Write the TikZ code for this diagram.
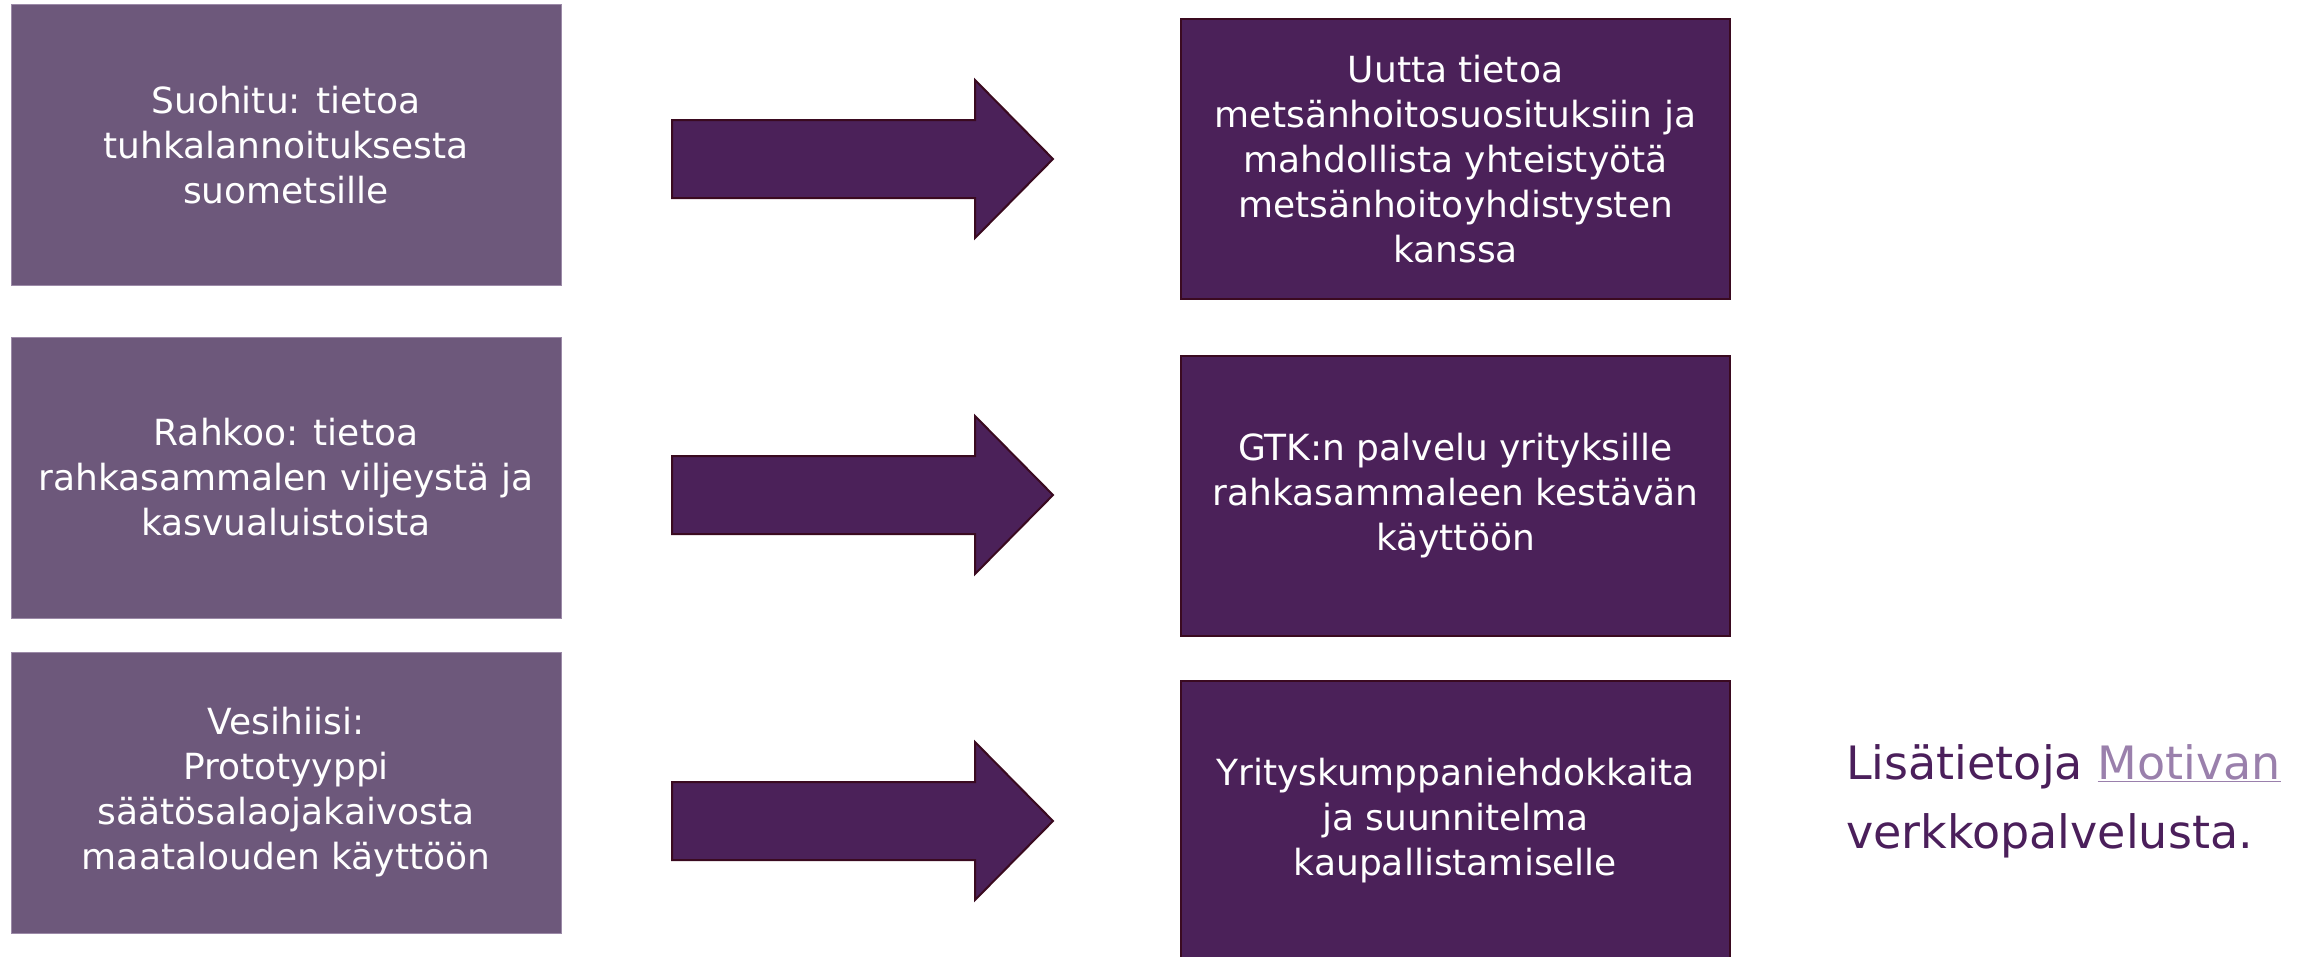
\documentclass[tikz,border=0pt]{standalone}
\usepackage{fontspec}
\setmainfont{DejaVu Sans}
\definecolor{leftfill}{HTML}{6D587B}
\definecolor{leftedge}{HTML}{9C8AA8}
\definecolor{rightfill}{HTML}{4B2159}
\definecolor{darkedge}{HTML}{3A0A20}
\definecolor{infoc}{HTML}{4B1F5B}
\definecolor{linkc}{HTML}{9A80AC}
\begin{document}
\begin{tikzpicture}[x=1pt,y=-1pt,
  srcbox/.style={rectangle, fill=leftfill, draw=leftedge, line width=1pt,
    minimum width=550pt, minimum height=281pt, inner sep=0pt,
    text=white, align=center, font=\fontsize{36}{45}\selectfont},
  resbox/.style={rectangle, fill=rightfill, draw=darkedge, line width=2pt,
    minimum width=549pt, minimum height=280pt, inner sep=0pt,
    text=white, align=center, font=\fontsize{36}{45}\selectfont},
  blockarrow/.style={fill=rightfill, draw=darkedge, line width=2pt, line join=miter},
  infotext/.style={inner sep=0pt, anchor=base west, text=infoc,
    font=\fontsize{46}{69}\selectfont}]
\useasboundingbox (0,0) rectangle (2312,956);
\fill[white] (0,0) rectangle (2312,956);

% source boxes
\node[srcbox] (s1) at (286,145) {Suohitu: tietoa\\tuhkalannoituksesta\\suometsille};
\node[srcbox] (s2) at (286,477.5) {Rahkoo: tietoa\\rahkasammalen viljeystä ja\\kasvualuistoista};
\node[srcbox] (s3) at (286,792.5) {Vesihiisi:\\Prototyyppi\\säätösalaojakaivosta\\maatalouden käyttöön};

% result boxes
\node[resbox] (r1) at (1455.5,159) {Uutta tietoa\\metsänhoitosuosituksiin ja\\mahdollista yhteistyötä\\metsänhoitoyhdistysten\\kanssa};
\node[resbox] (r2) at (1455.5,496) {GTK:n palvelu yrityksille\\rahkasammaleen kestävän\\käyttöön};
\node[resbox] (r3) at (1455.5,820.5) {Yrityskumppaniehdokkaita\\ja suunnitelma\\kaupallistamiselle};

% block arrows
\coordinate (a1) at (672,159);
\coordinate (a2) at (672,495);
\coordinate (a3) at (672,821);
\foreach \a in {a1,a2,a3}{
  \draw[blockarrow] (\a) ++(0,-39) -- ++(303,0) -- ++(0,-40) -- ++(78,79)
    -- ++(-78,79) -- ++(0,-40) -- ++(-303,0) -- cycle;
}

% info text
\node[infotext] (info1) at (1846,779) {Lisätietoja \textcolor{linkc}{\underline{Motivan}}};
\node[infotext] (info2) at (1846,848) {verkkopalvelusta.};
\end{tikzpicture}
\end{document}
